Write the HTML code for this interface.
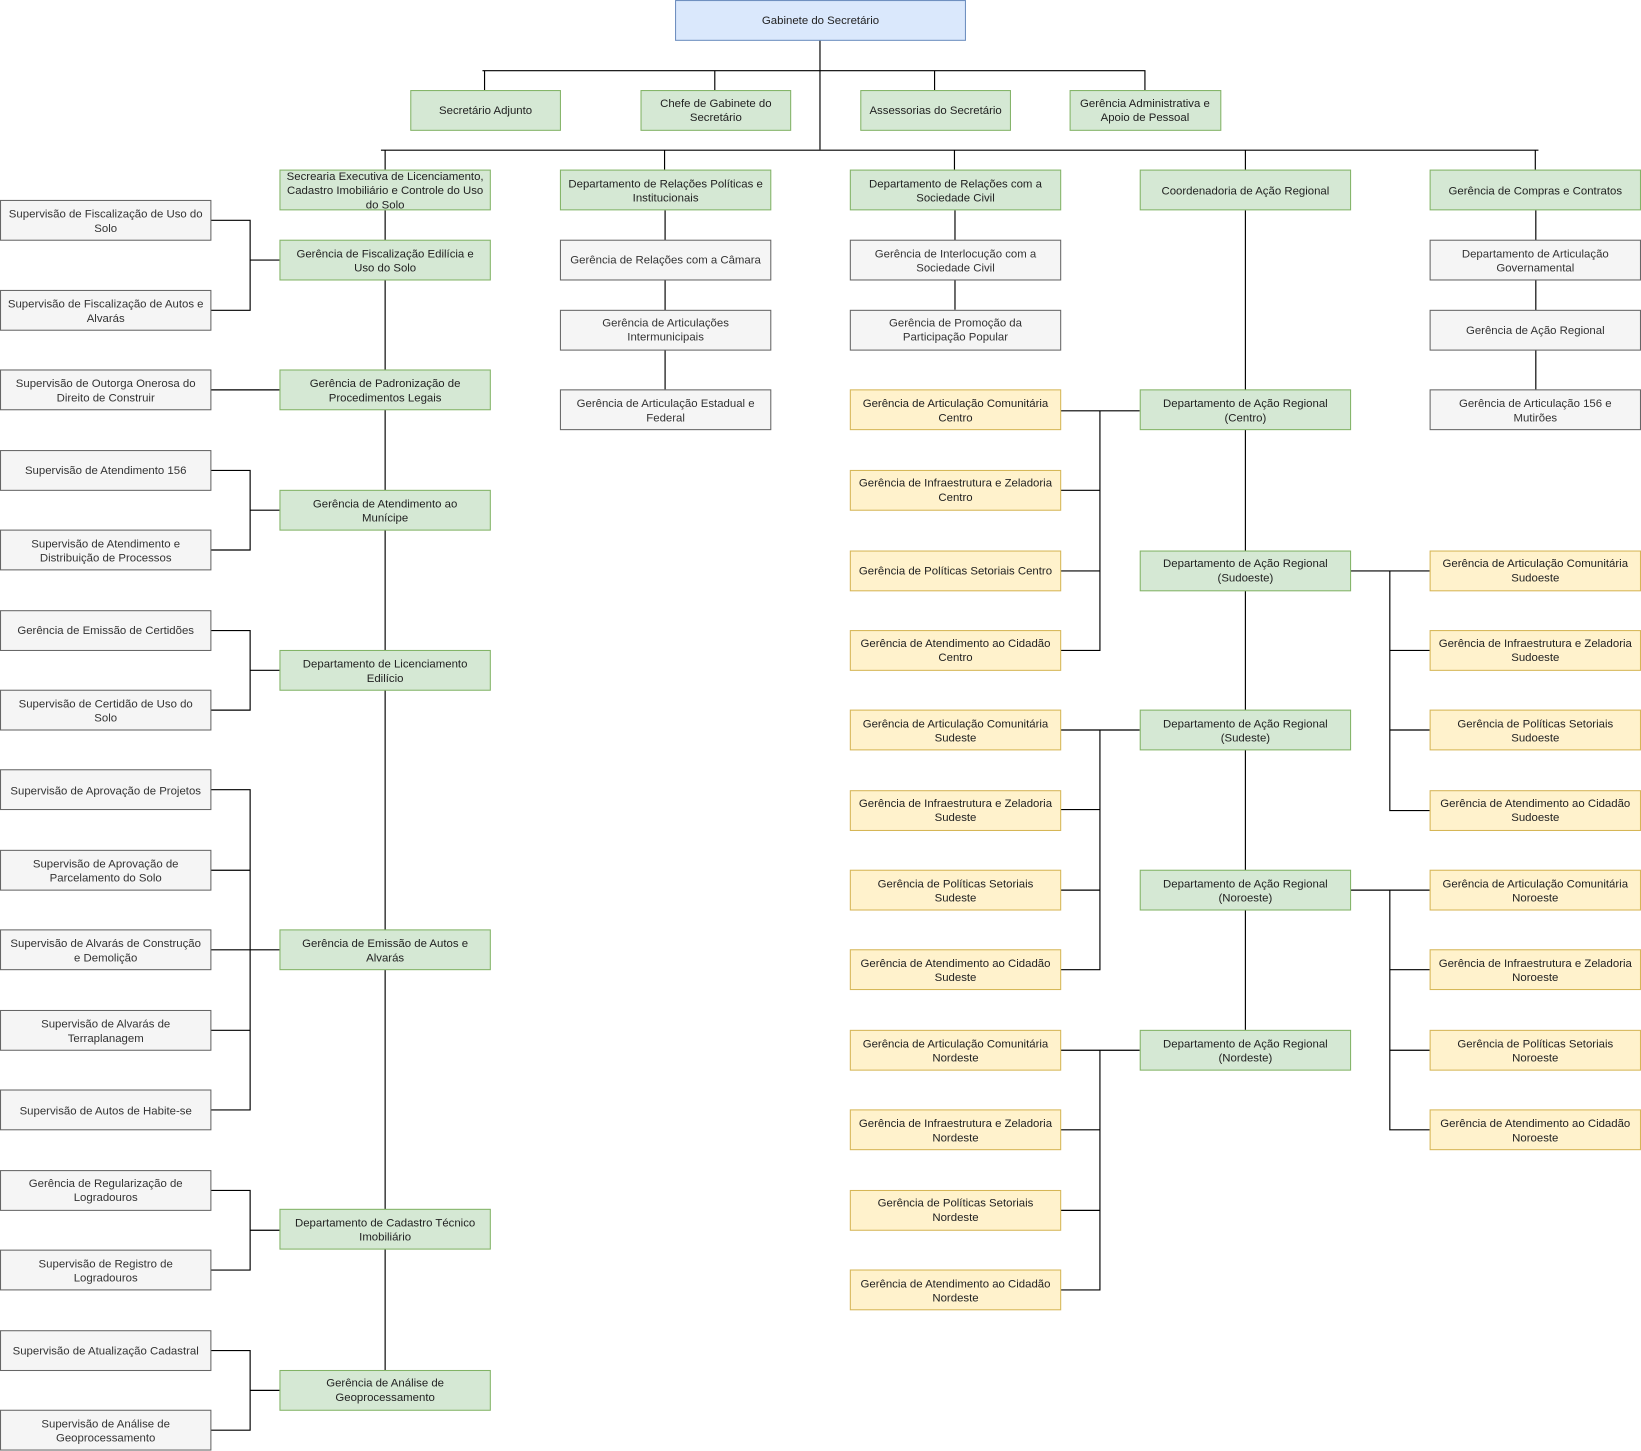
<!DOCTYPE html>
<html><head><meta charset="utf-8"><style>
html,body{margin:0;padding:0;background:#fff;}
svg{display:block;}
text{font-family:"Liberation Sans",Arial,sans-serif;font-size:10.9px;text-anchor:middle;}
.g rect{fill:#d5e8d4;stroke:#82b366;}
.y rect{fill:#fff2cc;stroke:#d6b656;}
.s rect{fill:#f5f5f5;stroke:#666;}
.b rect{fill:#dae8fc;stroke:#6c8ebf;}
.g text,.y text,.b text{fill:#222;}
.s text{fill:#333;}
.l{stroke:#000;stroke-width:1.1;fill:none;}
</style></head><body>
<svg width="1641" height="1451" viewBox="0 0 1568 1386.4" xmlns="http://www.w3.org/2000/svg">
<g class="l">
<path d="M783.5 38V143M461 67.5H1094.5M463 67V86M683 67V86M893 67V86M1094 67V86"/>
<path d="M364 143.5H1470M368 143V162M635 143V162M912 143V162M1190 143V162M1467 143V162"/>
<path d="M368 201V1309"/>
<path d="M201 210.5H239V296.5H201M239 248.5H267M201 372.5H267"/>
<path d="M201 449.5H239V525.5H201M239 487.5H267"/>
<path d="M201 602.5H239V678.5H201M239 640.5H267"/>
<path d="M201 754.5H239V1060.5H201M201 831.5H239M201 907.5H267M201 984.5H239"/>
<path d="M201 1137.5H239V1213.5H201M239 1175.5H267"/>
<path d="M201 1290.5H239V1366.5H201M239 1328.5H267"/>
<path d="M635.5 201V372M912.5 201V296M1467.5 201V372M1190 201V984"/>
<path d="M1013 392.5H1089M1051 392V621.5H1013M1013 468.5H1051M1013 545.5H1051"/>
<path d="M1013 697.5H1089M1051 697V926.5H1013M1013 773.5H1051M1013 850.5H1051"/>
<path d="M1013 1003.5H1089M1051 1003V1232.5H1013M1013 1079.5H1051M1013 1156.5H1051"/>
<path d="M1290 545.5H1366M1328 545V774.5H1366M1328 621.5H1366M1328 697.5H1366"/>
<path d="M1290 850.5H1366M1328 850V1079.5H1366M1328 926.5H1366M1328 1003.5H1366"/>
</g>

<g class="b"><rect x="645.5" y="0.5" width="277" height="38"/><text x="784" y="23">Gabinete do Secretário</text></g>

<g class="g">
<rect x="392.5" y="86.5" width="143" height="38"/><text x="464" y="109">Secretário Adjunto</text>
<rect x="612.5" y="86.5" width="143" height="38"/><text x="684" y="102">Chefe de Gabinete do<tspan x="684" dy="13.5">Secretário</tspan></text>
<rect x="822.5" y="86.5" width="143" height="38"/><text x="894" y="109">Assessorias do Secretário</text>
<rect x="1022.5" y="86.5" width="144" height="38"/><text x="1094" y="102">Gerência Administrativa e<tspan x="1094" dy="13.5">Apoio de Pessoal</tspan></text>

<rect x="267.5" y="162.5" width="201" height="38"/><text x="368" y="172">Secrearia Executiva de Licenciamento,<tspan x="368" dy="13.5">Cadastro Imobiliário e Controle do Uso</tspan><tspan x="368" dy="13.5">do Solo</tspan></text>
<rect x="535.5" y="162.5" width="201" height="38"/><text x="636" y="179">Departamento de Relações Políticas e<tspan x="636" dy="13.5">Institucionais</tspan></text>
<rect x="812.5" y="162.5" width="201" height="38"/><text x="913" y="179">Departamento de Relações com a<tspan x="913" dy="13.5">Sociedade Civil</tspan></text>
<rect x="1089.5" y="162.5" width="201" height="38"/><text x="1190" y="186">Coordenadoria de Ação Regional</text>
<rect x="1366.5" y="162.5" width="201" height="38"/><text x="1467" y="186">Gerência de Compras e Contratos</text>

<rect x="267.5" y="229.5" width="201" height="38"/><text x="368" y="246">Gerência de Fiscalização Edilícia e<tspan x="368" dy="13.5">Uso do Solo</tspan></text>
<rect x="267.5" y="353.5" width="201" height="38"/><text x="368" y="370">Gerência de Padronização de<tspan x="368" dy="13.5">Procedimentos Legais</tspan></text>
<rect x="267.5" y="468.5" width="201" height="38"/><text x="368" y="485">Gerência de Atendimento ao<tspan x="368" dy="13.5">Munícipe</tspan></text>
<rect x="267.5" y="621.5" width="201" height="38"/><text x="368" y="638">Departamento de Licenciamento<tspan x="368" dy="13.5">Edilício</tspan></text>
<rect x="267.5" y="888.5" width="201" height="38"/><text x="368" y="905">Gerência de Emissão de Autos e<tspan x="368" dy="13.5">Alvarás</tspan></text>
<rect x="267.5" y="1155.5" width="201" height="38"/><text x="368" y="1172">Departamento de Cadastro Técnico<tspan x="368" dy="13.5">Imobiliário</tspan></text>
<rect x="267.5" y="1309.5" width="201" height="38"/><text x="368" y="1325">Gerência de Análise de<tspan x="368" dy="13.5">Geoprocessamento</tspan></text>

<rect x="1089.5" y="372.5" width="201" height="38"/><text x="1190" y="389">Departamento de Ação Regional<tspan x="1190" dy="13.5">(Centro)</tspan></text>
<rect x="1089.5" y="526.5" width="201" height="38"/><text x="1190" y="542">Departamento de Ação Regional<tspan x="1190" dy="13.5">(Sudoeste)</tspan></text>
<rect x="1089.5" y="678.5" width="201" height="38"/><text x="1190" y="695">Departamento de Ação Regional<tspan x="1190" dy="13.5">(Sudeste)</tspan></text>
<rect x="1089.5" y="831.5" width="201" height="38"/><text x="1190" y="848">Departamento de Ação Regional<tspan x="1190" dy="13.5">(Noroeste)</tspan></text>
<rect x="1089.5" y="984.5" width="201" height="38"/><text x="1190" y="1001">Departamento de Ação Regional<tspan x="1190" dy="13.5">(Nordeste)</tspan></text>
</g>

<g class="s">
<rect x="0.5" y="191.5" width="201" height="38"/><text x="101" y="208">Supervisão de Fiscalização de Uso do<tspan x="101" dy="13.5">Solo</tspan></text>
<rect x="0.5" y="277.5" width="201" height="38"/><text x="101" y="294">Supervisão de Fiscalização de Autos e<tspan x="101" dy="13.5">Alvarás</tspan></text>
<rect x="0.5" y="353.5" width="201" height="38"/><text x="101" y="370">Supervisão de Outorga Onerosa do<tspan x="101" dy="13.5">Direito de Construir</tspan></text>
<rect x="0.5" y="430.5" width="201" height="38"/><text x="101" y="453">Supervisão de Atendimento 156</text>
<rect x="0.5" y="506.5" width="201" height="38"/><text x="101" y="523">Supervisão de Atendimento e<tspan x="101" dy="13.5">Distribuição de Processos</tspan></text>
<rect x="0.5" y="583.5" width="201" height="38"/><text x="101" y="606">Gerência de Emissão de Certidões</text>
<rect x="0.5" y="659.5" width="201" height="38"/><text x="101" y="676">Supervisão de Certidão de Uso do<tspan x="101" dy="13.5">Solo</tspan></text>
<rect x="0.5" y="735.5" width="201" height="38"/><text x="101" y="759">Supervisão de Aprovação de Projetos</text>
<rect x="0.5" y="812.5" width="201" height="38"/><text x="101" y="829">Supervisão de Aprovação de<tspan x="101" dy="13.5">Parcelamento do Solo</tspan></text>
<rect x="0.5" y="888.5" width="201" height="38"/><text x="101" y="905">Supervisão de Alvarás de Construção<tspan x="101" dy="13.5">e Demolição</tspan></text>
<rect x="0.5" y="965.5" width="201" height="38"/><text x="101" y="982">Supervisão de Alvarás de<tspan x="101" dy="13.5">Terraplanagem</tspan></text>
<rect x="0.5" y="1041.5" width="201" height="38"/><text x="101" y="1065">Supervisão de Autos de Habite-se</text>
<rect x="0.5" y="1118.5" width="201" height="38"/><text x="101" y="1134">Gerência de Regularização de<tspan x="101" dy="13.5">Logradouros</tspan></text>
<rect x="0.5" y="1194.5" width="201" height="38"/><text x="101" y="1211">Supervisão de Registro de<tspan x="101" dy="13.5">Logradouros</tspan></text>
<rect x="0.5" y="1271.5" width="201" height="38"/><text x="101" y="1294">Supervisão de Atualização Cadastral</text>
<rect x="0.5" y="1347.5" width="201" height="38"/><text x="101" y="1364">Supervisão de Análise de<tspan x="101" dy="13.5">Geoprocessamento</tspan></text>

<rect x="535.5" y="229.5" width="201" height="38"/><text x="636" y="252">Gerência de Relações com a Câmara</text>
<rect x="535.5" y="296.5" width="201" height="38"/><text x="636" y="312">Gerência de Articulações<tspan x="636" dy="13.5">Intermunicipais</tspan></text>
<rect x="535.5" y="372.5" width="201" height="38"/><text x="636" y="389">Gerência de Articulação Estadual e<tspan x="636" dy="13.5">Federal</tspan></text>
<rect x="812.5" y="229.5" width="201" height="38"/><text x="913" y="246">Gerência de Interlocução com a<tspan x="913" dy="13.5">Sociedade Civil</tspan></text>
<rect x="812.5" y="296.5" width="201" height="38"/><text x="913" y="312">Gerência de Promoção da<tspan x="913" dy="13.5">Participação Popular</tspan></text>
<rect x="1366.5" y="229.5" width="201" height="38"/><text x="1467" y="246">Departamento de Articulação<tspan x="1467" dy="13.5">Governamental</tspan></text>
<rect x="1366.5" y="296.5" width="201" height="38"/><text x="1467" y="319">Gerência de Ação Regional</text>
<rect x="1366.5" y="372.5" width="201" height="38"/><text x="1467" y="389">Gerência de Articulação 156 e<tspan x="1467" dy="13.5">Mutirões</tspan></text>
</g>

<g class="y">
<rect x="812.5" y="372.5" width="201" height="38"/><text x="913" y="389">Gerência de Articulação Comunitária<tspan x="913" dy="13.5">Centro</tspan></text>
<rect x="812.5" y="449.5" width="201" height="38"/><text x="913" y="465">Gerência de Infraestrutura e Zeladoria<tspan x="913" dy="13.5">Centro</tspan></text>
<rect x="812.5" y="526.5" width="201" height="38"/><text x="913" y="549">Gerência de Políticas Setoriais Centro</text>
<rect x="812.5" y="602.5" width="201" height="38"/><text x="913" y="618">Gerência de Atendimento ao Cidadão<tspan x="913" dy="13.5">Centro</tspan></text>
<rect x="812.5" y="678.5" width="201" height="38"/><text x="913" y="695">Gerência de Articulação Comunitária<tspan x="913" dy="13.5">Sudeste</tspan></text>
<rect x="812.5" y="755.5" width="201" height="38"/><text x="913" y="771">Gerência de Infraestrutura e Zeladoria<tspan x="913" dy="13.5">Sudeste</tspan></text>
<rect x="812.5" y="831.5" width="201" height="38"/><text x="913" y="848">Gerência de Políticas Setoriais<tspan x="913" dy="13.5">Sudeste</tspan></text>
<rect x="812.5" y="907.5" width="201" height="38"/><text x="913" y="924">Gerência de Atendimento ao Cidadão<tspan x="913" dy="13.5">Sudeste</tspan></text>
<rect x="812.5" y="984.5" width="201" height="38"/><text x="913" y="1001">Gerência de Articulação Comunitária<tspan x="913" dy="13.5">Nordeste</tspan></text>
<rect x="812.5" y="1060.5" width="201" height="38"/><text x="913" y="1077">Gerência de Infraestrutura e Zeladoria<tspan x="913" dy="13.5">Nordeste</tspan></text>
<rect x="812.5" y="1137.5" width="201" height="38"/><text x="913" y="1153">Gerência de Políticas Setoriais<tspan x="913" dy="13.5">Nordeste</tspan></text>
<rect x="812.5" y="1213.5" width="201" height="38"/><text x="913" y="1230">Gerência de Atendimento ao Cidadão<tspan x="913" dy="13.5">Nordeste</tspan></text>

<rect x="1366.5" y="526.5" width="201" height="38"/><text x="1467" y="542">Gerência de Articulação Comunitária<tspan x="1467" dy="13.5">Sudoeste</tspan></text>
<rect x="1366.5" y="602.5" width="201" height="38"/><text x="1467" y="618">Gerência de Infraestrutura e Zeladoria<tspan x="1467" dy="13.5">Sudoeste</tspan></text>
<rect x="1366.5" y="678.5" width="201" height="38"/><text x="1467" y="695">Gerência de Políticas Setoriais<tspan x="1467" dy="13.5">Sudoeste</tspan></text>
<rect x="1366.5" y="755.5" width="201" height="38"/><text x="1467" y="771">Gerência de Atendimento ao Cidadão<tspan x="1467" dy="13.5">Sudoeste</tspan></text>
<rect x="1366.5" y="831.5" width="201" height="38"/><text x="1467" y="848">Gerência de Articulação Comunitária<tspan x="1467" dy="13.5">Noroeste</tspan></text>
<rect x="1366.5" y="907.5" width="201" height="38"/><text x="1467" y="924">Gerência de Infraestrutura e Zeladoria<tspan x="1467" dy="13.5">Noroeste</tspan></text>
<rect x="1366.5" y="984.5" width="201" height="38"/><text x="1467" y="1001">Gerência de Políticas Setoriais<tspan x="1467" dy="13.5">Noroeste</tspan></text>
<rect x="1366.5" y="1060.5" width="201" height="38"/><text x="1467" y="1077">Gerência de Atendimento ao Cidadão<tspan x="1467" dy="13.5">Noroeste</tspan></text>
</g>
</svg>
</body></html>
